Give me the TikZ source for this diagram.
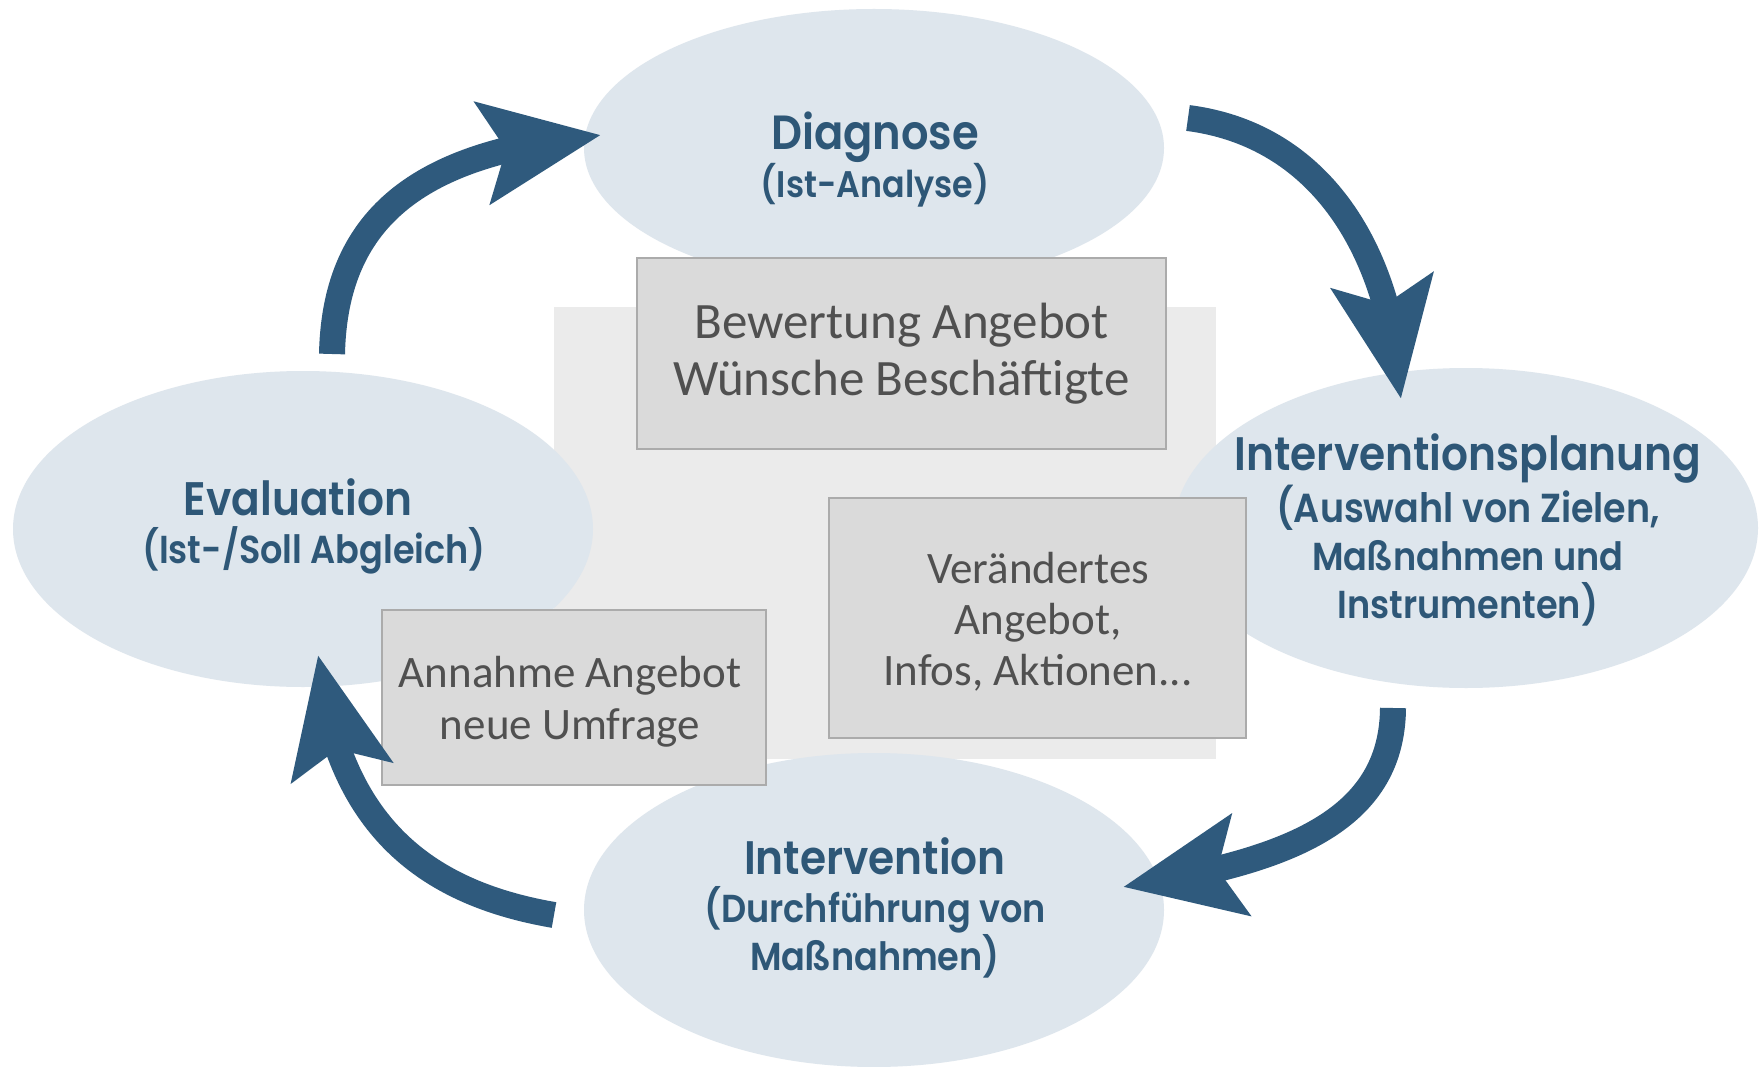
\documentclass[tikz,border=0pt]{standalone}
\usepackage{fontspec}
\setmainfont{Carlito}
\newfontfamily\headfont{Poppins SemiBold}[FakeStretch=0.9]
\usetikzlibrary{arrows.meta,bending,shapes.geometric}
\definecolor{ellfill}{HTML}{DEE6ED}
\definecolor{arrowc}{HTML}{2F5A7D}
\definecolor{headc}{HTML}{2E5777}
\definecolor{boxfill}{HTML}{DADADA}
\definecolor{boxline}{HTML}{ABABAB}
\definecolor{boxtext}{HTML}{505050}
\definecolor{backc}{HTML}{EBEBEB}
\tikzset{
  phase/.style={ellipse, fill=ellfill, inner sep=0pt, minimum width=580pt},
  headtext/.style={text=headc, align=center, inner sep=0pt,
    font=\headfont\fontsize{39}{48}\selectfont},
  infobox/.style={rectangle, fill=boxfill, draw=boxline, line width=2pt, inner sep=0pt},
  infotext/.style={text=boxtext, align=center, inner sep=0pt},
  cyclearrow/.style={draw=arrowc, line width=26pt, line cap=butt,
    -{Stealth[length=118pt, width=100pt, inset=22pt, fill=arrowc]}}
}
\begin{document}
\begin{tikzpicture}[x=1pt, y=-1pt]
\useasboundingbox (0,0) rectangle (1761,1067);
\fill[white] (0,0) rectangle (1761,1067);
% background panel
\node[fill=backc, inner sep=0pt, minimum width=662pt, minimum height=452pt] (panel) at (885,533) {};
% phases
\node[phase, minimum height=278pt] (diag) at (874,148) {};
\node[phase, minimum width=584pt, minimum height=320pt] (plan) at (1466,528) {};
\node[phase, minimum height=316pt] (eval) at (303,529) {};
\node[phase, minimum height=314pt] (interv) at (874,910) {};
% phase labels
\node[headtext] (diagT) at (875,160) {{\fontsize{48}{48}\selectfont Diagnose}\\{\fontsize{37}{48}\selectfont (Ist-Analyse)}};
\node[headtext] (planT) at (1468,530) {{\fontsize{47}{48}\selectfont Interventionsplanung}\\{\fontsize{40.5}{48}\selectfont (Auswahl von Zielen,}\\Maßnahmen und\\Instrumenten)};
\node[headtext] (evalT) at (306,526) {{\fontsize{47}{48}\selectfont Evaluation}\hspace*{16pt}\\(Ist-/Soll Abgleich)\hspace*{-16pt}};
\node[headtext] (intervT) at (875,908) {{\fontsize{47}{48}\selectfont Intervention}\\(Durchführung von\\Maßnahmen)};
% info boxes
\node[infobox, minimum width=529pt, minimum height=191pt] (box1) at (901.5,353.5) {};
\node[infotext, font=\fontsize{51}{57}\selectfont] (box1T) at (box1) {Bewertung Angebot\\Wünsche Beschäftigte};
\node[infobox, minimum width=417pt, minimum height=240pt] (box2) at (1037.5,618) {};
\node[infotext, font=\fontsize{45}{51}\selectfont] (box2T) at (1038,622) {Verändertes\\Angebot,\\Infos, Aktionen...};
\node[infobox, minimum width=384pt, minimum height=175pt] (box3) at (574,697.5) {};
\node[infotext, font=\fontsize{45}{52}\selectfont] (box3T) at (570,702) {Annahme Angebot\\neue Umfrage};
% arrow end points
\coordinate (a1s) at (332,354);
\coordinate (a1e) at (601,135);
\coordinate (a2s) at (1188,118);
\coordinate (a2e) at (1401,399);
\coordinate (a3s) at (1393,708);
\coordinate (a3e) at (1123,887);
\coordinate (a4s) at (554,915);
\coordinate (a4e) at (318,655);
% cycle arrows
\draw[cyclearrow] (a1s) .. controls (335,210) and (430,150) .. (a1e);
\draw[cyclearrow] (a2s) .. controls (1320,135) and (1392,250) .. (a2e);
\draw[cyclearrow] (a3s) .. controls (1392,820) and (1290,862) .. (a3e);
\draw[cyclearrow] (a4s) .. controls (420,892) and (335,820) .. (a4e);
\end{tikzpicture}
\end{document}
